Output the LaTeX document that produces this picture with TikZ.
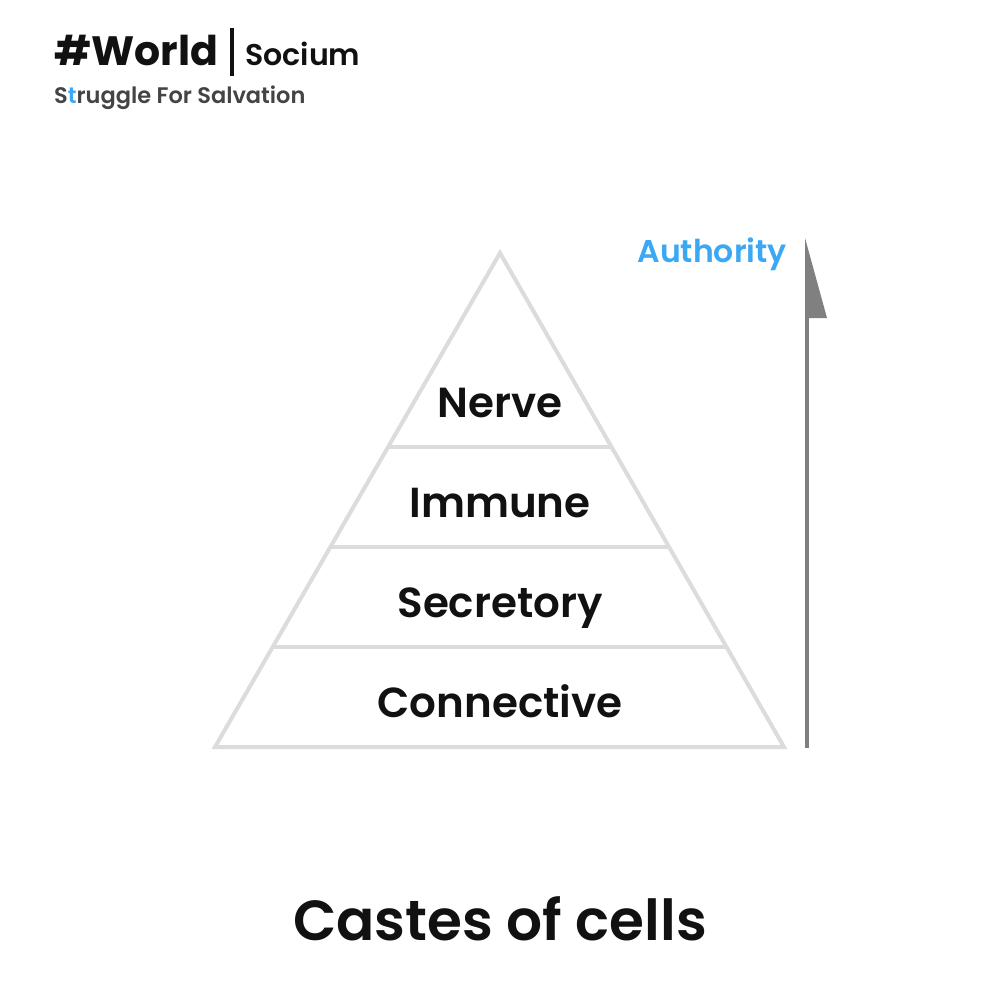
\documentclass[tikz,border=0pt]{standalone}
\usepackage{fontspec}
\usetikzlibrary{calc}
\setmainfont{Poppins}[BoldFont={Poppins SemiBold}]
\newfontfamily\heavyfont{Poppins Bold}
\definecolor{pyr}{HTML}{DCDCDC}
\definecolor{ink}{HTML}{111111}
\definecolor{sky}{HTML}{3AA8F5}
\definecolor{sub}{HTML}{444444}
\definecolor{arr}{HTML}{808080}
\begin{document}
\begin{tikzpicture}[x=1pt,y=-1pt,
  tier/.style={font=\fontsize{42}{44}\selectfont\bfseries, text=ink, inner sep=0pt, anchor=base},
  edge/.style={draw=pyr, line width=4pt, line join=miter}]
\useasboundingbox (0,0) rectangle (1000,1000);
\fill[white] (0,0) rectangle (1000,1000);
% header
\node[anchor=base west, inner sep=0pt, text=ink, font=\fontsize{41}{43}\selectfont\heavyfont] (world) at (54,66) {\#World};
\draw[ink, line width=4.5pt] (232,28) -- (232,76);
\node[anchor=base west, inner sep=0pt, text=ink, font=\fontsize{30}{32}\selectfont\bfseries] (socium) at (245,66) {Socium};
\node[anchor=base west, inner sep=0pt, text=sub, font=\fontsize{22.5}{24}\selectfont\bfseries] (tag) at (54,104) {S\textcolor{sky}{t}ruggle For Salvation};
% pyramid
\coordinate (apex) at (500,253);
\coordinate (bl) at (215,747);
\coordinate (br) at (784,747);
\coordinate (l1) at ($(apex)!0.3927!(bl)$);
\coordinate (r1) at ($(apex)!0.3927!(br)$);
\coordinate (l2) at ($(apex)!0.5951!(bl)$);
\coordinate (r2) at ($(apex)!0.5951!(br)$);
\coordinate (l3) at ($(apex)!0.7976!(bl)$);
\coordinate (r3) at ($(apex)!0.7976!(br)$);
\draw[edge] (apex) -- (br) -- (bl) -- cycle;
\draw[edge] (l1) -- (r1);
\draw[edge] (l2) -- (r2);
\draw[edge] (l3) -- (r3);
\node[tier] (nerve) at (500,417) {Nerve};
\node[tier] (immune) at (500,517) {Immune};
\node[tier] (secretory) at (500,617) {Secretory};
\node[tier] (connective) at (500,717) {Connective};
% authority arrow
\coordinate (abot) at (807,748);
\coordinate (atop) at (807,318);
\draw[arr, line width=4pt] (abot) -- (atop);
\fill[arr] (805,238) -- (827,318) -- (805,318) -- cycle;
\node[anchor=base east, inner sep=0pt, text=sky, font=\fontsize{31.5}{33}\selectfont\bfseries] (auth) at (787,262) {Authority};
% title
\node[anchor=base, inner sep=0pt, text=ink, font=\fontsize{56.5}{59}\selectfont\bfseries] (title) at (500,940) {Castes of cells};
\end{tikzpicture}
\end{document}
